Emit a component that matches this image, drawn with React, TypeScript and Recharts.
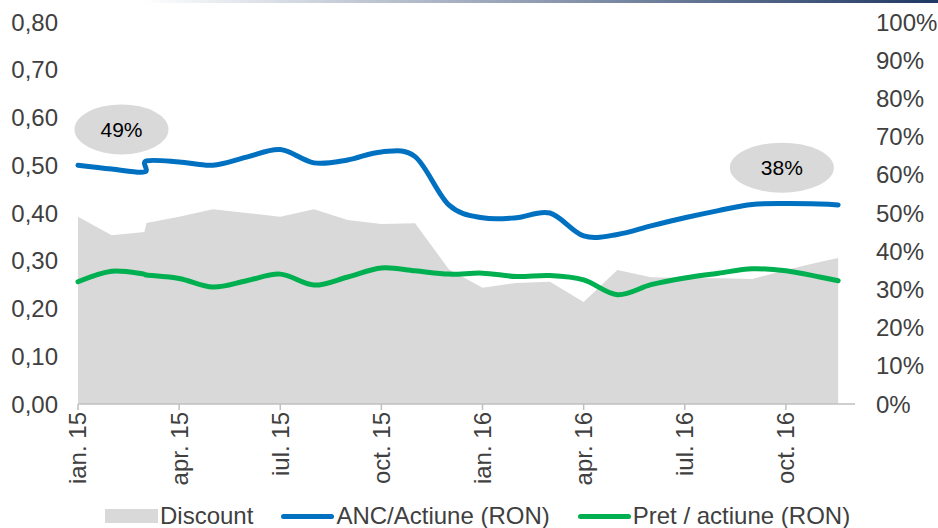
import React from "react";
import { ComposedChart, Area, Line, XAxis, YAxis, Legend, ReferenceDot } from "recharts";

// month index from ian. 15 (two readings close together around month 2)
const months = [0, 1, 1.97, 2.03, 3, 4, 5, 6, 7, 8, 9, 10, 11, 12, 13, 14, 15, 16, 17, 18, 19, 20, 21, 22, 22.55];
// discount, %
const discount = [49, 44.2, 45.0, 47.4, 49.0, 51.0, 50.0, 49.0, 51.0, 48.2, 47.1, 47.3, 35.3, 30.4, 31.7, 32.0, 26.7, 35.1, 33.2, 33.0, 32.9, 32.7, 35.1, 37.2, 38.2];
// ANC / actiune, RON
const ancActiune = [0.5, 0.492, 0.486, 0.509, 0.507, 0.5, 0.517, 0.533, 0.505, 0.511, 0.528, 0.518, 0.417, 0.39, 0.39, 0.4, 0.352, 0.355, 0.373, 0.39, 0.405, 0.418, 0.42, 0.419, 0.417];
// pret / actiune, RON
const pretActiune = [0.256, 0.278, 0.272, 0.27, 0.263, 0.245, 0.258, 0.272, 0.249, 0.266, 0.285, 0.279, 0.272, 0.274, 0.267, 0.269, 0.26, 0.229, 0.25, 0.264, 0.274, 0.283, 0.279, 0.266, 0.258];

const tickMonths = [0, 3, 6, 9, 12, 15, 18, 21];
const tickLabels = ["ian. 15", "apr. 15", "iul. 15", "oct. 15", "ian. 16", "apr. 16", "iul. 16", "oct. 16"];
const leftTicks = [0, 0.1, 0.2, 0.3, 0.4, 0.5, 0.6, 0.7, 0.8];
const rightTicks = [0, 0.1, 0.2, 0.3, 0.4, 0.5, 0.6, 0.7, 0.8, 0.9, 1];

const FONT = "'Liberation Sans', Arial, sans-serif";
const TEXT = "#404040";
const BLUE = "#0070c0";
const GREEN = "#00b050";
const GREY = "#d9d9d9";

const data = months.map((m, i) => ({
  m,
  discount: discount[i] / 100,
  anc: ancActiune[i],
  pret: pretActiune[i],
}));

// Excel-style smoothing (cardinal spline, tension 0)
function excelSmooth(context: any) {
  const k = 1 / 6;
  let x0 = NaN, y0 = NaN, x1 = NaN, y1 = NaN, x2 = NaN, y2 = NaN;
  let pt = 0;
  let line = NaN;
  const seg = (x: number, y: number) => {
    context.bezierCurveTo(
      x1 + k * (x2 - x0),
      y1 + k * (y2 - y0),
      x2 + k * (x1 - x),
      y2 + k * (y1 - y),
      x2,
      y2
    );
  };
  return {
    areaStart() { line = 0; },
    areaEnd() { line = NaN; },
    lineStart() {
      x0 = x1 = x2 = y0 = y1 = y2 = NaN;
      pt = 0;
    },
    lineEnd() {
      if (pt === 2) context.lineTo(x2, y2);
      else if (pt === 3) seg(x1, y1);
      if (line || (line !== 0 && pt === 1)) context.closePath();
      line = 1 - line;
    },
    point(x: number, y: number) {
      x = +x;
      y = +y;
      if (pt === 0) {
        pt = 1;
        if (line) context.lineTo(x, y);
        else context.moveTo(x, y);
      } else if (pt === 1) {
        pt = 2;
        x1 = x;
        y1 = y;
      } else {
        pt = 3;
        seg(x, y);
      }
      x0 = x1; x1 = x2; x2 = x;
      y0 = y1; y1 = y2; y2 = y;
    },
  };
}

const MonthTick = ({ x, y, payload }: any) => {
  const idx = tickMonths.indexOf(payload.value);
  return (
    <text
      x={x}
      y={y}
      transform={`rotate(-90 ${x} ${y})`}
      textAnchor="end"
      dy="0.35em"
      fontSize={24}
      fontFamily={FONT}
      fill={TEXT}
    >
      {tickLabels[idx]}
    </text>
  );
};

const bubble = (label: string, rx: number, ry: number) => (props: any) => {
  const { cx, cy } = props;
  return (
    <g>
      <ellipse cx={cx} cy={cy} rx={rx} ry={ry} fill={GREY} />
      <text x={cx} y={cy} dy="0.35em" textAnchor="middle" fontSize={21} fontFamily={FONT} fill="#000">
        {label}
      </text>
    </g>
  );
};

const LegendContent = () => {
  const item = (icon: React.ReactNode, label: string, gap: number) => (
    <div style={{ display: "flex", alignItems: "center", marginRight: gap }}>
      {icon}
      <span style={{ marginLeft: 2 }}>{label}</span>
    </div>
  );
  return (
    <div
      style={{
        display: "flex",
        height: 24,
        alignItems: "center",
        paddingLeft: 105,
        fontFamily: FONT,
        fontSize: 24,
        lineHeight: "24px",
        color: TEXT,
        whiteSpace: "nowrap",
      }}
    >
      {item(<div style={{ width: 53, height: 14, background: GREY }} />, "Discount", 28)}
      {item(<div style={{ width: 53, height: 5, background: BLUE, borderRadius: 3 }} />, "ANC/Actiune (RON)", 28)}
      {item(<div style={{ width: 53, height: 5, background: GREEN, borderRadius: 3 }} />, "Pret / actiune (RON)", 0)}
    </div>
  );
};

export default function App() {
  const first = Math.round(discount[0]);
  const last = Math.round(discount[discount.length - 1]);
  return (
    <div style={{ position: "absolute", left: 0, top: 0, width: 938, height: 528, background: "#fff", overflow: "hidden" }}>
      <div
        style={{
          position: "absolute",
          left: 0,
          top: 0,
          width: 938,
          height: 3,
          background: "linear-gradient(to right, #ffffff 15%, #1f3864 100%)",
        }}
      />
      <ComposedChart width={938} height={528} data={data} margin={{ top: 22, right: 0, bottom: 0, left: 0 }}>
        <XAxis
          dataKey="m"
          type="number"
          domain={[0, 23.05]}
          ticks={tickMonths}
          interval={0}
          height={100}
          tick={<MonthTick />}
          tickSize={6}
          axisLine={{ stroke: "#bfbfbf", strokeWidth: 1.5 }}
          tickLine={{ stroke: "#bfbfbf", strokeWidth: 1.5 }}
        />
        <YAxis
          yAxisId="left"
          orientation="left"
          width={78}
          domain={[0, 0.8]}
          ticks={leftTicks}
          interval={0}
          axisLine={false}
          tickLine={false}
          tickMargin={14}
          tickFormatter={(v: number) => v.toFixed(2).replace(".", ",")}
          tick={{ fontSize: 24, fontFamily: FONT, fill: TEXT }}
        />
        <YAxis
          yAxisId="right"
          orientation="right"
          width={83}
          domain={[0, 1]}
          ticks={rightTicks}
          interval={0}
          axisLine={false}
          tickLine={false}
          tickMargin={15}
          tickFormatter={(v: number) => `${Math.round(v * 100)}%`}
          tick={{ fontSize: 24, fontFamily: FONT, fill: TEXT, textAnchor: "start" }}
        />
        <Area
          yAxisId="right"
          dataKey="discount"
          name="Discount"
          type="linear"
          fill={GREY}
          fillOpacity={1}
          stroke="none"
          isAnimationActive={false}
        />
        <Line
          yAxisId="left"
          dataKey="anc"
          name="ANC/Actiune (RON)"
          type={excelSmooth as any}
          stroke={BLUE}
          strokeWidth={5}
          strokeLinecap="round"
          dot={false}
          activeDot={false}
          isAnimationActive={false}
        />
        <Line
          yAxisId="left"
          dataKey="pret"
          name="Pret / actiune (RON)"
          type={excelSmooth as any}
          stroke={GREEN}
          strokeWidth={5}
          strokeLinecap="round"
          dot={false}
          activeDot={false}
          isAnimationActive={false}
        />
        <ReferenceDot yAxisId="left" x={1.29} y={0.575} r={0} shape={bubble(`${first}%`, 47, 25)} />
        <ReferenceDot yAxisId="left" x={20.88} y={0.495} r={0} shape={bubble(`${last}%`, 52, 25)} />
        <Legend verticalAlign="bottom" height={24} content={<LegendContent />} />
      </ComposedChart>
    </div>
  );
}
